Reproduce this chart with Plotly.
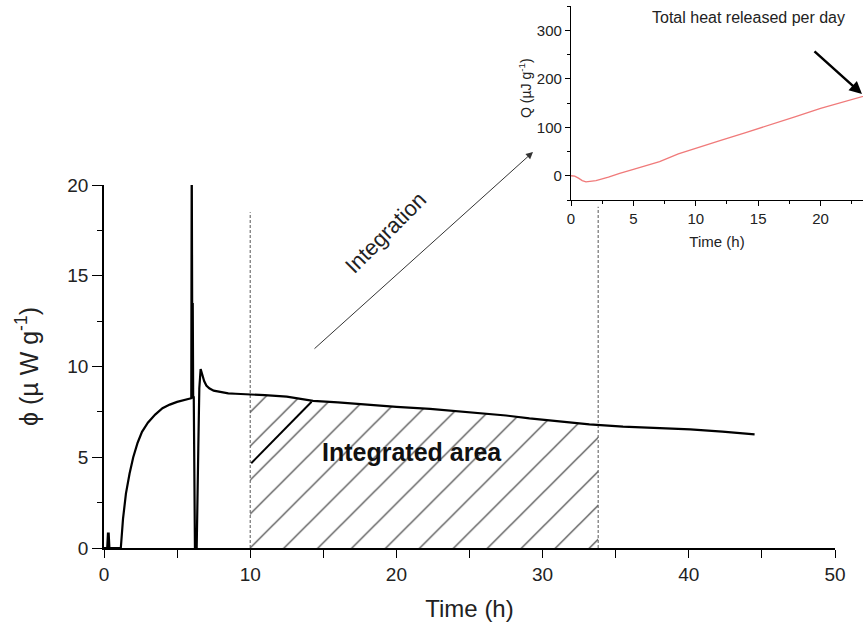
import numpy as np
import plotly.graph_objects as go

# ---- main heat-flow curve (time in h, phi in uW/g) ----
time_h = [0, 0.22, 0.27, 0.32, 0.37, 1.15, 1.3, 1.5, 1.75, 2.0, 2.3, 2.6, 3.0, 3.5, 4.0,
          4.5, 5.0, 5.5, 5.9, 5.97, 6.0, 6.04, 6.07, 6.1, 6.14, 6.22, 6.34, 6.45, 6.52,
          6.61, 6.7, 6.85, 7.0, 7.2, 7.5, 8.0, 8.5, 9.0, 10, 11, 12.5, 14.3, 16, 18,
          20, 22.3, 24, 26, 27.5, 29.1, 31, 33.2, 35.5, 37.8, 40.1, 42.3, 44.5]
phi = [0, 0, 0.8, 0.8, 0, 0, 1.6, 3.0, 4.1, 5.0, 5.8, 6.4, 6.9, 7.35, 7.7,
       7.9, 8.05, 8.15, 8.22, 8.25, 22.0, 10.6, 13.5, 8.3, 8.3, 0, 0, 5.5, 8.8,
       9.86, 9.6, 9.2, 8.95, 8.8, 8.67, 8.58, 8.52, 8.5, 8.48, 8.42, 8.34, 8.11, 8.02, 7.88,
       7.78, 7.66, 7.55, 7.42, 7.3, 7.14, 7.0, 6.81, 6.69, 6.6, 6.54, 6.41, 6.26]

# integration limits (h) and dashed-marker heights
int_start, int_end = 10.0, 33.8
marker_heights = [18.5, 18.8]

# emphasised hatch stroke
stroke_t = [10.07, 14.2]
stroke_phi = [4.67, 8.06]

# ---- inset: cumulative heat Q (uJ/g) ----
q_time = [0, 0.3, 0.6, 0.9, 1.2, 1.6, 2.0, 3.0, 3.9, 5.0, 6.0, 7.1, 8.6, 10, 12, 14, 16,
          18, 20, 22, 23.4, 24]
q_val = [0, -1, -5, -10, -12.5, -12, -10, -3, 5, 13, 21, 29, 45, 57, 73, 89, 105,
         122, 139, 153, 163, 168]

x_ticks = [0, 10, 20, 30, 40, 50]
y_ticks = [0, 5, 10, 15, 20]
ix_ticks = [0, 5, 10, 15, 20]
iy_ticks = [0, 100, 200, 300]

FONT = "Liberation Sans, Arial, sans-serif"
TXT = "#222222"
W, H = 863, 628

def px_x(p):
    return p / W

def px_y(p):
    return 1 - p / H

fig = go.Figure()

# hatched integrated area
t_arr = np.array(time_h, dtype=float)
p_arr = np.array(phi, dtype=float)
mask = (t_arr > int_start) & (t_arr < int_end)
hx = [int_start] + list(t_arr[mask]) + [int_end]
hy = [float(np.interp(int_start, t_arr, p_arr))] + list(p_arr[mask]) + [float(np.interp(int_end, t_arr, p_arr))]
fig.add_trace(go.Scatter(
    x=hx, y=hy, mode="lines", line=dict(width=0, color="rgba(0,0,0,0)"),
    fill="tozeroy", fillcolor="rgba(0,0,0,0)",
    fillpattern=dict(shape="/", fgcolor="#333333", fgopacity=1, bgcolor="rgba(0,0,0,0)",
                     size=24, solidity=0.05),
    hoverinfo="skip", showlegend=False, xaxis="x", yaxis="y"))

# dashed integration limits
for tx, hh in zip([int_start, int_end], marker_heights):
    fig.add_trace(go.Scatter(
        x=[tx, tx], y=[0, hh], mode="lines",
        line=dict(color="#555555", width=1, dash="3px,2px"),
        showlegend=False, hoverinfo="skip", xaxis="x", yaxis="y"))

# emphasised stroke
fig.add_trace(go.Scatter(x=stroke_t, y=stroke_phi, mode="lines",
                         line=dict(color="black", width=2),
                         showlegend=False, hoverinfo="skip", xaxis="x", yaxis="y"))

# main curve
fig.add_trace(go.Scatter(x=time_h, y=phi, mode="lines",
                         line=dict(color="black", width=2.2),
                         showlegend=False, xaxis="x", yaxis="y"))

# inset curve
fig.add_trace(go.Scatter(x=q_time, y=q_val, mode="lines",
                         line=dict(color="#f07a7a", width=1.3),
                         showlegend=False, xaxis="x2", yaxis="y2"))

axis_common = dict(showgrid=False, zeroline=False, showline=True, linecolor="black",
                   ticks="outside", tickcolor="black", color=TXT, automargin=False)

fig.update_layout(
    width=W, height=H, margin=dict(l=0, r=0, t=0, b=0, autoexpand=False),
    paper_bgcolor="white", plot_bgcolor="rgba(0,0,0,0)",
    font=dict(family=FONT, color=TXT),
    xaxis=dict(axis_common, domain=[px_x(104), px_x(835)], range=[0, 50],
               tickvals=x_ticks, ticklen=8, tickwidth=1.3, linewidth=1.5,
               minor=dict(dtick=5, ticklen=8, tickwidth=1.3, ticks="outside", tickcolor="black"),
               tickfont=dict(size=19, family=FONT), anchor="y",
               title=dict(text="Time (h)", font=dict(size=24, family=FONT), standoff=17)),
    yaxis=dict(axis_common, domain=[px_y(548), px_y(185)], range=[0, 20],
               tickvals=y_ticks, ticklen=10, tickwidth=1.3, linewidth=1.5,
               minor=dict(dtick=2.5, ticklen=5, tickwidth=1.3, ticks="outside", tickcolor="black"),
               tickfont=dict(size=19, family=FONT), anchor="x",
               title=dict(text="ϕ (µ W g<sup>-1</sup>)", font=dict(size=25, family=FONT), standoff=22)),
    xaxis2=dict(axis_common, domain=[px_x(571), 1.0], range=[0, 23.4],
                tickvals=ix_ticks, ticklen=5, tickwidth=1, linewidth=1.2, anchor="y2",
                minor=dict(dtick=2.5, ticklen=3, tickwidth=1, ticks="outside", tickcolor="black"),
                tickfont=dict(size=15, family=FONT),
                title=dict(text="Time (h)", font=dict(size=15, family=FONT), standoff=10)),
    yaxis2=dict(axis_common, domain=[px_y(200), px_y(6)], range=[-50, 350],
                tickvals=iy_ticks, ticklen=5, tickwidth=1, linewidth=1.2, anchor="x2",
                minor=dict(dtick=50, ticklen=3, tickwidth=1, ticks="outside", tickcolor="black"),
                tickfont=dict(size=15, family=FONT)),
)

# annotations
fig.add_annotation(x=px_x(525), y=px_y(88), xref="paper", yref="paper",
                   text="Q (µJ g<sup>-1</sup>)", showarrow=False, textangle=-90,
                   xanchor="center", yanchor="middle",
                   font=dict(size=14, family=FONT, color=TXT))
fig.add_annotation(x=px_x(412), y=px_y(452), xref="paper", yref="paper", text="<b>Integrated area</b>",
                   showarrow=False, xanchor="center", yanchor="middle",
                   font=dict(size=25, family=FONT, color="#111111"))
fig.add_annotation(x=px_x(386), y=px_y(233), xref="paper", yref="paper", text="Integration",
                   showarrow=False, textangle=-45, xanchor="center", yanchor="middle",
                   font=dict(size=22, family=FONT, color=TXT))
fig.add_annotation(x=px_x(533), y=px_y(152), xref="paper", yref="paper", text="",
                   showarrow=True, ax=-220, ay=198, arrowhead=2, arrowsize=1.4,
                   arrowwidth=1, arrowcolor="#333333")
fig.add_annotation(x=px_x(748), y=px_y(17), xref="paper", yref="paper",
                   text="Total heat released per day", showarrow=False,
                   xanchor="center", yanchor="middle",
                   font=dict(size=16, family=FONT, color=TXT))
fig.add_annotation(x=px_x(866), y=px_y(94), xref="paper", yref="paper", text="",
                   showarrow=True, ax=-53, ay=-44, arrowhead=2, arrowsize=1,
                   arrowwidth=2.5, arrowcolor="black")

fig.write_html("out.html")
